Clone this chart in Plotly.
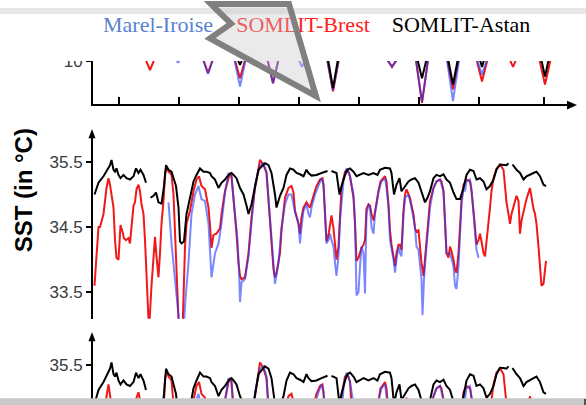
import plotly.graph_objects as go

W, H = 586, 405

# ---------------- data ----------------
# x = months since start of record; ticks mark the years
year_ticks = [12, 24, 36, 48, 60, 72, 84, 97]

series_names = ["Marel-Iroise", "SOMLIT-Brest", "SOMLIT-Astan"]
series_colors = ["#5a82d0", "#ff2020", "#000000"]

# top panel (SST) : only winter minima reach into the visible window
top_brest = [(16.8, 10.6), (18.2, 9.38), (19.6, 10.6), (None, None),
             (28.4, 10.6), (29.8, 9.15), (31.2, 10.6), (None, None),
             (34.8, 10.6), (36.2, 8.78), (37.6, 10.6), (None, None),
             (41.4, 10.6), (42.8, 8.42), (44.2, 10.6), (None, None),
             (53.4, 10.6), (54.8, 7.83), (56.2, 10.6), (None, None),
             (64.8, 10.6), (66.6, 9.61), (68.4, 10.6), (None, None),
             (71.2, 10.6), (72.6, 6.99), (74.0, 10.6), (None, None),
             (77.4, 10.6), (78.8, 7.97), (80.2, 10.6), (None, None),
             (83.2, 10.6), (84.6, 8.54), (86.0, 10.6), (None, None),
             (89.6, 10.6), (90.8, 9.61), (92.0, 10.6), (None, None),
             (95.8, 10.6), (97.2, 8.33), (98.6, 10.6)]
top_marel = [(22.8, 10.6), (23.8, 9.9), (24.8, 10.6), (None, None),
             (28.4, 10.6), (29.8, 9.1), (31.2, 10.6), (None, None),
             (34.8, 10.6), (36.2, 8.18), (37.6, 10.6), (None, None),
             (41.4, 10.6), (42.8, 8.42), (44.2, 10.6), (None, None),
             (47.4, 10.6), (48.6, 9.61), (49.8, 10.6), (None, None),
             (53.4, 10.6), (54.8, 7.9), (56.2, 10.6), (None, None),
             (64.8, 10.6), (66.6, 9.61), (68.4, 10.6), (None, None),
             (71.2, 10.6), (72.6, 7.04), (74.0, 10.6), (None, None),
             (77.4, 10.6), (78.8, 7.11), (80.2, 10.6), (None, None),
             (83.2, 10.6), (84.6, 9.04), (86.0, 10.6)]
top_astan = [(35.2, 10.6), (36.2, 9.75), (37.2, 10.6), (None, None),
             (53.6, 10.6), (54.8, 8.06), (56.0, 10.6), (None, None),
             (71.4, 10.6), (72.6, 8.78), (73.8, 10.6), (None, None),
             (77.6, 10.6), (78.8, 8.33), (80.0, 10.6), (None, None),
             (83.8, 10.6), (84.6, 9.61), (85.4, 10.6), (None, None),
             (96.2, 10.6), (97.2, 8.9), (98.2, 10.6)]

# middle / bottom panels
astan = [(7.1, 35.0), (7.9, 35.18), (8.9, 35.28), (9.5, 35.35), (10.2, 35.45), (10.5, 35.53),
         (10.9, 35.38), (11.2, 35.35), (11.5, 35.4), (11.9, 35.3), (12.3, 35.25), (12.9, 35.3),
         (13.5, 35.25), (14.2, 35.23), (14.9, 35.28), (15.4, 35.4), (15.9, 35.33), (16.3, 35.38),
         (16.9, 35.3), (17.4, 35.18), (None, None),
         (18.3, 34.95), (18.9, 34.98), (19.4, 35.03), (19.9, 34.88), (20.5, 34.86), (21.0, 35.13),
         (21.4, 35.45), (21.9, 35.38), (22.5, 35.35), (22.9, 35.25), (23.4, 35.13), (23.9, 34.8),
         (24.2, 34.28), (24.5, 34.25), (25.0, 34.28), (25.5, 34.7), (26.2, 34.95), (26.9, 35.2),
         (27.5, 35.3), (28.2, 35.4), (28.9, 35.35), (29.5, 35.35), (30.2, 35.33), (30.5, 35.28),
         (31.2, 35.23), (31.9, 35.1), (32.5, 35.18), (33.2, 35.23), (33.9, 35.3), (34.5, 35.33),
         (34.9, 35.3), (35.5, 35.25), (36.2, 35.1), (36.9, 35.0), (37.5, 34.83), (37.9, 34.7),
         (38.5, 34.85), (39.2, 35.13), (39.9, 35.38), (40.5, 35.43), (41.2, 35.48), (41.9, 35.45),
         (42.5, 35.33), (43.2, 35.0), (43.5, 34.8), (44.2, 34.98), (44.9, 35.1), (45.5, 35.3),
         (46.2, 35.4), (46.9, 35.38), (47.5, 35.33), (48.2, 35.31), (48.9, 35.28), (49.5, 35.38),
         (49.9, 35.33), (50.5, 35.29), (51.5, 35.3), (52.5, 35.33), (53.7, 35.36), (None, None),
         (54.5, 35.36), (55.5, 35.33), (56.1, 35.0), (56.5, 35.13), (57.2, 35.3), (57.7, 35.38),
         (58.2, 35.4), (58.9, 35.35), (59.5, 35.28), (60.2, 35.31), (60.9, 35.33), (61.9, 35.3),
         (62.9, 35.33), (63.7, 35.3), (64.2, 35.38), (65.2, 35.41), (66.2, 35.4), (66.5, 35.33),
         (67.0, 35.0), (67.5, 35.15), (68.1, 35.25), (68.5, 35.05), (69.2, 35.13), (69.9, 35.2),
         (70.5, 35.23), (71.2, 35.25), (71.9, 35.18), (72.5, 35.05), (73.2, 34.88), (73.7, 34.95),
         (74.2, 35.05), (74.9, 35.25), (75.5, 35.3), (76.2, 35.28), (76.9, 35.31), (77.5, 35.23),
         (78.2, 35.18), (78.9, 35.03), (79.5, 34.93), (80.2, 34.93), (80.9, 35.1), (81.5, 35.3),
         (82.2, 35.38), (82.9, 35.36), (83.5, 35.23), (84.2, 35.25), (84.9, 35.2), (85.5, 35.08),
         (86.2, 35.13), (86.9, 35.23), (87.5, 35.38), (88.2, 35.46), (88.9, 35.46), (89.5, 35.45),
         (89.9, 35.48), (None, None),
         (90.7, 35.46), (91.5, 35.38), (92.2, 35.33), (92.9, 35.23), (93.5, 35.28), (94.2, 35.3),
         (94.9, 35.33), (95.5, 35.35), (96.2, 35.28), (96.9, 35.15), (97.4, 35.13)]

brest = [(7.1, 33.6), (7.5, 34.1), (7.9, 34.5), (8.2, 34.5), (8.9, 34.7), (9.5, 35.1), (9.9, 35.25),
         (10.2, 35.15), (10.9, 34.8), (11.2, 34.3), (11.5, 34.03), (11.9, 34.0), (12.2, 34.3),
         (12.3, 34.53), (12.7, 34.43), (13.0, 34.33), (13.4, 34.3), (13.9, 34.33), (14.2, 34.25),
         (14.5, 34.55), (14.9, 34.83), (15.2, 34.88), (15.5, 35.08), (15.9, 35.15), (16.2, 35.05),
         (16.5, 34.85), (16.9, 34.7), (17.2, 34.3), (17.5, 33.7), (18.0, 32.9), (18.5, 33.6),
         (19.2, 34.35), (19.5, 34.05), (19.9, 33.73), (20.2, 34.1), (20.5, 34.55), (20.9, 34.9),
         (21.2, 35.3), (21.5, 35.43), (21.9, 35.35), (22.2, 35.33), (22.5, 35.3), (22.9, 35.0),
         (23.2, 34.35), (23.5, 33.7), (24.0, 32.9), (24.7, 32.9), (25.2, 34.2), (25.5, 34.55),
         (26.2, 34.75), (26.9, 35.05), (27.5, 35.23), (28.0, 35.28), (28.5, 35.13), (29.2, 35.08),
         (29.9, 34.8), (30.2, 34.53), (30.5, 34.18), (30.9, 34.38), (31.5, 34.4), (32.2, 34.48),
         (32.5, 34.7), (33.2, 35.05), (33.9, 35.28), (34.2, 35.33), (34.5, 35.28), (34.9, 34.95),
         (35.5, 34.4), (35.9, 33.95), (36.2, 33.75), (36.5, 33.7), (37.2, 33.73), (37.9, 34.1),
         (38.5, 34.65), (39.2, 35.1), (39.9, 35.43), (40.2, 35.53), (40.5, 35.5), (40.9, 35.45),
         (41.5, 35.33), (42.2, 34.55), (42.5, 34.15), (42.9, 33.85), (43.2, 33.73), (43.5, 33.8),
         (44.2, 34.1), (44.5, 34.45), (45.2, 34.95), (45.9, 35.1), (46.5, 35.13), (46.9, 35.03),
         (47.2, 34.75), (47.9, 34.55), (48.2, 34.4), (48.5, 34.65), (48.9, 34.8), (49.5, 34.88),
         (49.9, 34.83), (50.2, 34.8), (50.9, 34.98), (51.5, 35.13), (52.2, 35.23), (52.7, 35.25),
         (52.9, 35.15), (53.2, 34.75), (53.5, 34.28), (53.9, 34.38), (54.2, 34.55), (54.5, 34.68),
         (54.9, 34.48), (55.2, 34.25), (55.5, 34.0), (55.9, 34.2), (56.2, 34.7), (56.5, 35.1),
         (57.2, 35.35), (57.7, 35.38), (58.2, 35.28), (58.9, 34.95), (59.2, 34.55), (59.5, 33.98),
         (59.9, 34.03), (60.2, 34.1), (60.5, 34.18), (60.9, 34.23), (61.2, 34.3), (61.5, 34.78),
         (61.9, 34.85), (62.2, 34.83), (62.5, 34.7), (62.9, 34.6), (63.2, 34.75), (63.9, 35.05),
         (64.3, 35.2), (64.9, 35.25), (65.2, 35.28), (65.5, 35.2), (65.9, 34.85), (66.2, 34.45),
         (66.5, 34.23), (66.9, 34.05), (67.2, 33.9), (67.5, 34.1), (67.9, 34.23), (68.2, 34.23),
         (68.5, 34.15), (68.9, 34.75), (69.2, 35.0), (69.5, 35.08), (69.9, 35.0), (70.2, 34.95),
         (70.5, 34.83), (70.9, 34.7), (71.2, 34.48), (71.5, 34.43), (71.9, 34.45), (72.2, 34.2),
         (72.5, 33.95), (72.9, 33.75), (73.2, 34.0), (73.5, 34.28), (73.9, 34.55), (74.2, 34.9),
         (74.9, 35.1), (75.5, 35.2), (76.2, 35.23), (76.5, 35.2), (76.9, 35.05), (77.2, 34.58),
         (77.5, 34.1), (77.9, 34.03), (78.2, 34.2), (78.5, 34.13), (78.9, 34.0), (79.2, 33.85),
         (79.5, 33.8), (79.9, 34.1), (80.2, 34.5), (80.5, 34.9), (80.9, 35.15), (81.5, 35.23),
         (82.2, 35.2), (82.5, 35.05), (82.9, 34.75), (83.2, 34.43), (83.5, 34.23), (83.9, 34.3),
         (84.2, 34.4), (84.5, 34.28), (84.9, 34.1), (85.2, 34.05), (85.5, 34.25), (85.9, 34.5),
         (86.2, 34.8), (86.5, 35.05), (86.9, 35.25), (87.5, 35.4), (88.2, 35.46), (88.9, 35.38),
         (89.2, 35.15), (89.5, 34.88), (89.9, 34.7), (90.2, 34.55), (90.5, 34.7), (90.9, 34.83),
         (91.5, 34.98), (91.9, 34.9), (92.2, 34.4), (92.5, 34.6), (92.9, 34.75), (93.5, 34.93),
         (94.2, 35.1), (94.5, 34.95), (94.9, 34.78), (95.2, 34.7), (95.5, 34.55), (95.9, 34.2),
         (96.2, 33.85), (96.5, 33.6), (96.9, 33.63), (97.2, 33.8), (97.4, 33.98)]

marel = [(21.9, 34.88), (22.5, 34.25), (23.2, 33.7), (24.2, 32.9), (24.9, 32.9), (25.3, 33.4),
         (25.9, 33.95), (26.5, 34.7), (27.2, 35.0), (27.9, 35.13), (28.5, 34.93), (29.2, 34.9),
         (29.9, 34.55), (30.5, 33.73), (31.2, 34.1), (31.9, 34.25), (32.5, 34.55), (33.2, 35.03),
         (33.9, 35.33), (34.5, 35.28), (35.2, 34.7), (35.7, 34.3), (36.0, 33.85), (36.2, 33.35),
         (36.5, 33.65), (37.2, 33.7), (37.9, 34.05), (38.5, 34.6), (39.2, 35.15), (40.2, 35.45),
         (40.9, 35.48), (41.5, 35.35), (42.2, 34.6), (42.9, 33.8), (43.2, 33.63), (43.9, 33.95),
         (44.5, 34.5), (45.2, 34.85), (45.9, 35.0), (46.5, 35.0), (47.2, 34.73), (47.9, 34.55),
         (48.2, 34.25), (48.5, 34.5), (48.9, 34.75), (49.5, 34.85), (49.9, 34.7), (50.2, 34.65),
         (50.5, 34.8), (51.2, 35.0), (51.9, 35.15), (52.5, 35.25), (52.9, 35.15), (53.2, 34.7),
         (53.5, 34.25), (53.9, 34.3), (54.2, 34.4), (54.5, 34.3), (54.9, 34.2), (55.2, 33.95),
         (55.5, 33.75), (55.9, 34.05), (56.2, 34.6), (56.9, 35.2), (57.5, 35.4), (57.9, 35.35),
         (58.2, 35.28), (58.9, 35.0), (59.2, 34.6), (59.5, 33.45), (59.9, 33.5), (60.2, 33.9),
         (60.5, 34.2), (60.9, 34.1), (61.2, 33.48), (61.5, 34.7), (61.9, 34.85), (62.2, 34.8),
         (62.5, 34.5), (62.9, 34.4), (63.2, 34.7), (63.9, 35.05), (64.5, 35.2), (65.2, 35.25),
         (65.5, 35.1), (65.9, 34.8), (66.2, 34.3), (66.9, 34.0), (67.2, 33.8), (67.5, 34.0),
         (67.9, 34.2), (68.2, 34.1), (68.5, 34.05), (68.9, 34.7), (69.2, 34.95), (69.9, 35.0),
         (70.5, 34.8), (71.2, 34.5), (71.5, 34.2), (71.9, 34.15), (72.5, 33.7), (72.7, 33.15),
         (73.0, 33.7), (73.5, 34.2), (74.2, 34.8), (74.9, 35.1), (75.5, 35.2), (76.2, 35.23),
         (76.9, 35.05), (77.2, 34.6), (77.5, 34.1), (78.2, 34.1), (78.9, 33.9), (79.2, 33.6),
         (79.5, 33.55), (79.9, 33.9), (80.2, 34.4), (80.5, 34.85), (80.9, 35.1), (81.2, 35.05),
         (81.5, 35.2), (82.2, 35.23), (82.5, 35.08), (82.9, 34.75), (83.2, 34.4), (83.5, 34.15),
         (83.9, 34.03)]

y_title = "SST (in °C)"

# ---------------- helpers (layout only) ----------------
def fx(p):
    return p / W

def fy(p):
    return 1 - p / H

def xs(pairs):
    return [a for a, b in pairs]

def ys(pairs):
    return [b for a, b in pairs]

X_RANGE = [6.8, 102.2]
X_DOM = [fx(93), fx(570)]

fig = go.Figure()

blue_rgba = "rgba(35,55,255,0.6)"
red = "#f01818"

def add_panel(k, b_pairs, m_pairs, a_pairs):
    xa = "x" if k == 1 else f"x{k}"
    ya = "y" if k == 1 else f"y{k}"
    fig.add_trace(go.Scatter(x=xs(b_pairs), y=ys(b_pairs), mode="lines",
                             line=dict(color=red, width=2), xaxis=xa, yaxis=ya,
                             connectgaps=False, hoverinfo="skip"))
    fig.add_trace(go.Scatter(x=xs(m_pairs), y=ys(m_pairs), mode="lines",
                             line=dict(color=blue_rgba, width=2), xaxis=xa, yaxis=ya,
                             connectgaps=False, hoverinfo="skip"))
    fig.add_trace(go.Scatter(x=xs(a_pairs), y=ys(a_pairs), mode="lines",
                             line=dict(color="black", width=2), xaxis=xa, yaxis=ya,
                             connectgaps=False, hoverinfo="skip"))

add_panel(1, top_brest, top_marel, top_astan)
add_panel(2, brest, marel, astan)
add_panel(3, brest, marel, astan)

# overlay subplot for the legend header (white band + coloured names)
fig.add_trace(go.Scatter(x=[0, W, W, 0, 0], y=[5, 5, 54, 54, 5], mode="lines",
                         fill="toself", fillcolor="white", line=dict(width=0),
                         xaxis="x4", yaxis="y4", hoverinfo="skip"))
legend_centers = [158, 303, 461]
for name, col, cx in zip(series_names, series_colors, legend_centers):
    fig.add_trace(go.Scatter(x=[cx], y=[19], mode="text", text=[name],
                             textposition="middle center",
                             textfont=dict(family="Liberation Serif", size=22, color=col),
                             xaxis="x4", yaxis="y4", hoverinfo="skip"))

tickfont = dict(family="Liberation Sans", size=17, color="#3a3a3a")
hidden_x = dict(domain=X_DOM, range=X_RANGE, visible=False)

fig.update_layout(
    width=W, height=H, margin=dict(l=0, r=0, t=0, b=0),
    paper_bgcolor="white", plot_bgcolor="rgba(0,0,0,0)", showlegend=False,
    xaxis=dict(domain=X_DOM, range=X_RANGE, showline=True, linecolor="black", linewidth=2,
               ticks="inside", ticklen=7, tickwidth=1.5, tickcolor="black",
               tickvals=year_ticks, showticklabels=False, showgrid=False, zeroline=False,
               anchor="y"),
    yaxis=dict(domain=[fy(98), fy(54)], range=[6.9, 10.04], showline=True, linecolor="black",
               linewidth=2, ticks="outside", ticklen=5, tickwidth=1.5, tickcolor="black",
               tickvals=[10], ticktext=["10"], tickfont=tickfont, showgrid=False,
               zeroline=False, anchor="x"),
    xaxis2=dict(hidden_x, anchor="y2"),
    yaxis2=dict(domain=[fy(317), fy(130)], range=[33.094, 35.906], showline=True,
                linecolor="black", linewidth=2, ticks="outside", ticklen=5, tickwidth=1.5,
                tickcolor="black", tickvals=[33.5, 34.5, 35.5], tickfont=tickfont,
                showgrid=False, zeroline=False, anchor="x2"),
    xaxis3=dict(hidden_x, anchor="y3"),
    yaxis3=dict(domain=[0, fy(336)], range=[34.9875, 35.85], showline=True,
                linecolor="black", linewidth=2, ticks="outside", ticklen=5, tickwidth=1.5,
                tickcolor="black", tickvals=[35.5], tickfont=tickfont,
                showgrid=False, zeroline=False, anchor="x3"),
    xaxis4=dict(domain=[0, 1], range=[0, W], visible=False, anchor="y4"),
    yaxis4=dict(domain=[0, 1], range=[H, 0], visible=False, anchor="x4"),
)

def path(pts, close=True):
    s = "M " + " L ".join(f"{fx(a):.5f},{fy(b):.5f}" for a, b in pts)
    return s + (" Z" if close else "")

shapes = []
# screen bands
shapes.append(dict(type="rect", xref="paper", yref="paper", x0=0, x1=1, y0=fy(6), y1=1,
                   fillcolor="#e7e7e7", line=dict(width=0), layer="above"))
shapes.append(dict(type="rect", xref="paper", yref="paper", x0=0, x1=1, y0=0, y1=fy(398),
                   fillcolor="#c8c8c8", line=dict(width=0), layer="above"))
shapes.append(dict(type="rect", xref="paper", yref="paper", x0=fx(584), x1=1, y0=0, y1=fy(399),
                   fillcolor="#555555", line=dict(width=0), layer="above"))
# axis arrow heads
for pts in ([(567, 94.5), (577, 99), (567, 103.5)],
            [(92, 123.5), (88.5, 133), (95.5, 133)],
            [(92, 330.5), (88.5, 340), (95.5, 340)]):
    shapes.append(dict(type="path", xref="paper", yref="paper", path=path(pts),
                       fillcolor="black", line=dict(width=0), layer="above"))
# callout arrow
shapes.append(dict(type="path", xref="paper", yref="paper",
                   path=path([(211, -4), (231, 16), (210, 31), (316, 90), (289, -4)]),
                   fillcolor="rgba(200,200,200,0.38)",
                   line=dict(color="#808080", width=6), layer="above"))
fig.update_layout(shapes=shapes)

fig.add_annotation(xref="paper", yref="paper", x=fx(23), y=fy(186), text=f"<b>{y_title}</b>",
                   textangle=-90, showarrow=False, xanchor="center", yanchor="middle",
                   font=dict(family="Liberation Sans", size=24, color="black"))

fig.write_html("out.html")
